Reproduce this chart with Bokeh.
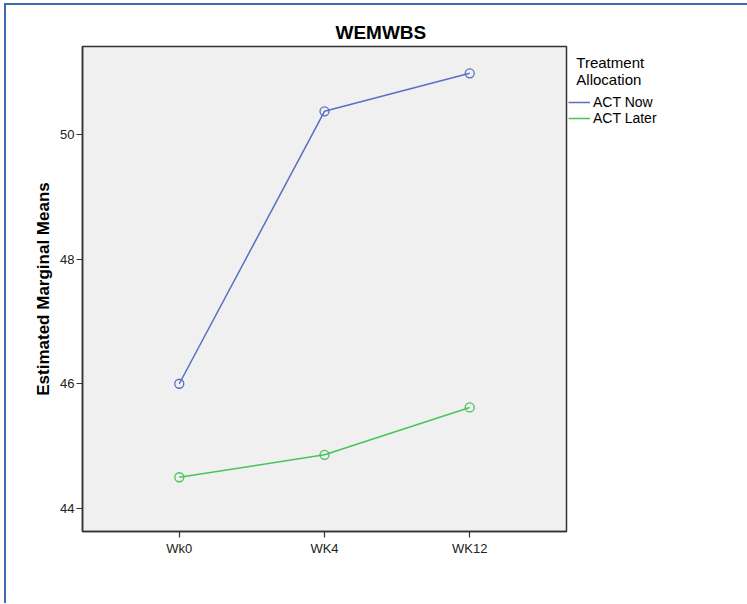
from bokeh.plotting import figure
from bokeh.models import FactorRange, Range1d, Legend, LegendItem, FixedTicker
from bokeh.embed import file_html
from bokeh.resources import INLINE

weeks = ["Wk0", "WK4", "WK12"]
act_now = [46.0, 50.37, 50.98]
act_later = [44.5, 44.86, 45.62]
y_ticks = [44, 46, 48, 50]

FONT = "Liberation Sans"
FW, FH = 484, 485

p = figure(frame_width=FW, frame_height=FH, output_backend="svg", toolbar_location=None,
           x_range=FactorRange(*weeks, range_padding=0.111, range_padding_units="percent"),
           y_range=Range1d(43.63, 51.41),
           min_border_left=76, min_border_top=41, min_border_right=165, min_border_bottom=72,
           title="WEMWBS")
p.styles = {"margin-left": "4px", "margin-top": "3px",
            "border-left": "2px solid #3A6DAE", "border-top": "2px solid #3A6DAE"}

p.title.align = "left"
p.title.offset = 253
p.title.text_font = FONT
p.title.text_font_size = "19px"
p.title.text_font_style = "bold"
p.title.text_color = "#000000"
p.title.standoff = 8

p.background_fill_color = "#F0F0F0"
p.border_fill_color = "#FFFFFF"
p.outline_line_color = "#333333"
p.outline_line_width = 1.5
p.xgrid.visible = False
p.ygrid.visible = False

for ax in (p.xaxis[0], p.yaxis[0]):
    ax.axis_line_color = "#333333"
    ax.axis_line_width = 1.5
    ax.major_tick_line_color = "#333333"
    ax.major_tick_line_width = 1.2
    ax.major_tick_out = 6
    ax.major_tick_in = 0
    ax.minor_tick_line_color = None
    ax.major_label_text_font = FONT
    ax.major_label_text_font_size = "13px"
    ax.major_label_text_color = "#222222"

p.yaxis[0].ticker = FixedTicker(ticks=y_ticks)
p.yaxis[0].major_label_standoff = 2
p.yaxis[0].axis_label = "Estimated Marginal Means"
p.yaxis[0].axis_label_text_font = FONT
p.yaxis[0].axis_label_text_font_size = "17px"
p.yaxis[0].axis_label_text_font_style = "bold"
p.yaxis[0].axis_label_text_color = "#000000"
p.yaxis[0].axis_label_standoff = 4
p.xaxis[0].major_label_standoff = 3

blue = "#5A6FC4"
green = "#45C45A"

l1 = p.line(weeks, act_now, line_color=blue, line_width=1.5)
c1 = p.scatter(weeks, act_now, marker="circle", size=9, fill_color=None, line_color=blue, line_width=1.3)
l2 = p.line(weeks, act_later, line_color=green, line_width=1.5)
c2 = p.scatter(weeks, act_later, marker="circle", size=9, fill_color=None, line_color=green, line_width=1.3)

NB = "\u00a0\u00a0"
legend = Legend(items=[LegendItem(label="ACT Now", renderers=[l1]),
                       LegendItem(label="ACT Later", renderers=[l2])],
                title=NB + "Treatment\n" + NB + "Allocation",
                location=(2, 405),
                border_line_color=None, background_fill_alpha=0,
                label_text_font=FONT, label_text_font_size="14px", label_text_color="#000000",
                label_text_line_height=1.0,
                title_text_font=FONT, title_text_font_size="15px", title_text_color="#000000",
                title_text_font_style="normal", title_text_line_height=1.0, title_standoff=6,
                glyph_width=22, glyph_height=14, label_standoff=3, spacing=0,
                padding=0, margin=0, label_height=14)
p.add_layout(legend, "right")

open("out.html", "w").write(file_html(p, INLINE))
